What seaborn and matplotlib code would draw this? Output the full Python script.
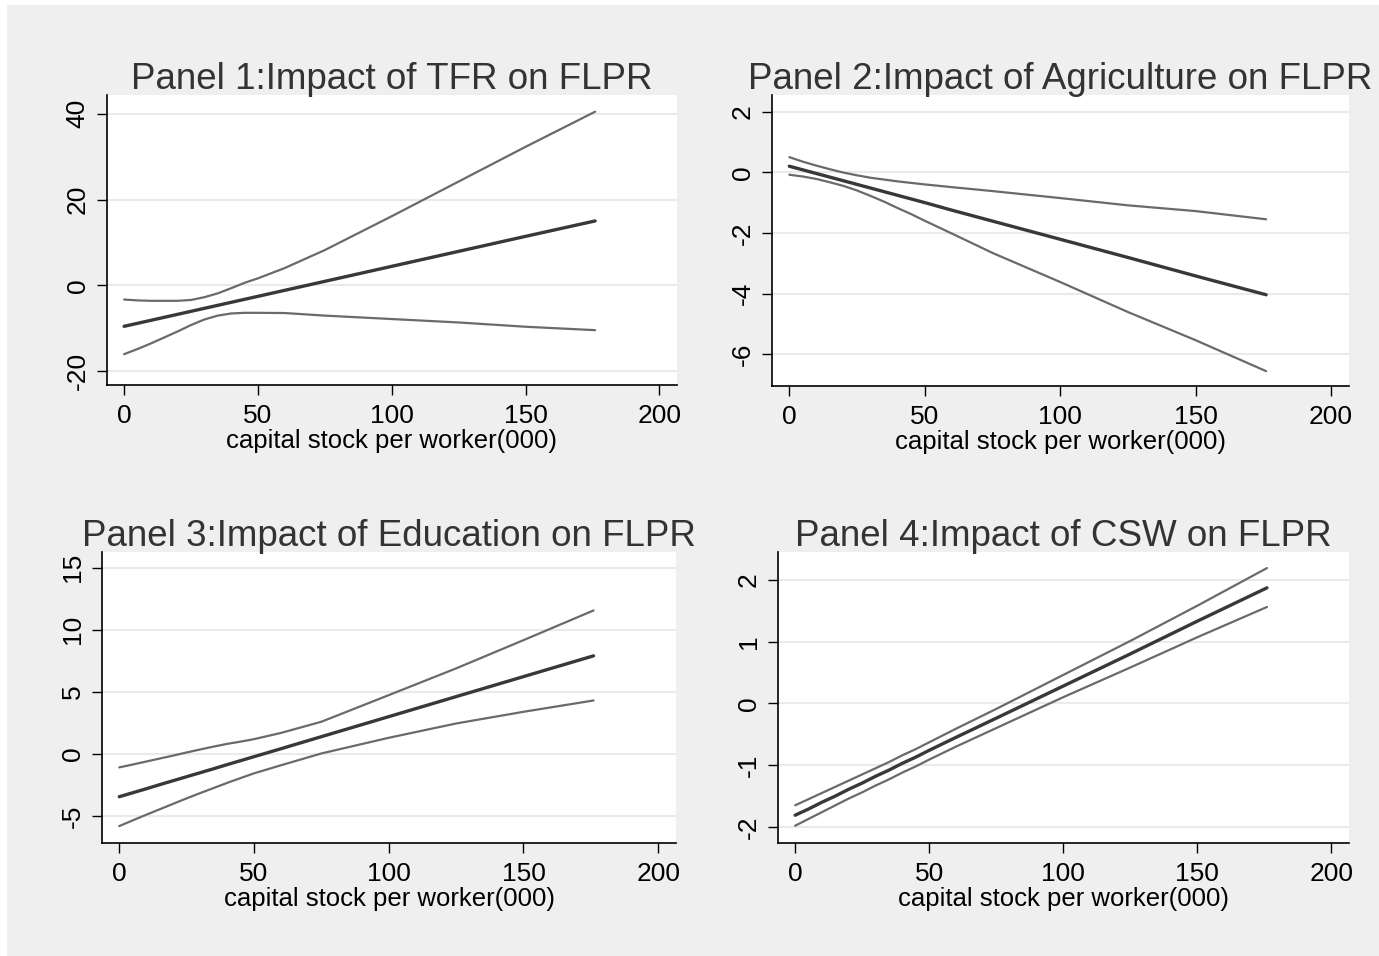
import matplotlib
matplotlib.use("Agg")
import matplotlib.pyplot as plt
import seaborn as sns
import pandas as pd
from matplotlib.patches import Rectangle

# ---------------- data ----------------
x_vals = [0, 5, 10, 15, 20, 25, 30, 35, 40, 45, 50, 60, 75, 100, 125, 150, 176]

p1_center = [-9.6, -8.9, -8.2, -7.5, -6.8, -6.1, -5.4, -4.7, -4.0, -3.3, -2.6, -1.2, 0.9, 4.4, 7.9, 11.4, 15.0]
p1_upper = [-3.35, -3.55, -3.65, -3.65, -3.65, -3.45, -2.8, -1.9, -0.7, 0.55, 1.6, 4.0, 8.2, 16.1, 24.2, 32.3, 40.5]
p1_lower = [-16.1, -14.9, -13.6, -12.2, -10.8, -9.3, -8.0, -7.1, -6.6, -6.45, -6.45, -6.5, -7.1, -7.9, -8.7, -9.7, -10.5]

p2_center = [0.2, 0.08, -0.04, -0.16, -0.28, -0.4, -0.52, -0.64, -0.76, -0.88, -1.0, -1.25, -1.61, -2.21, -2.81, -3.42, -4.04]
p2_upper = [0.5, 0.35, 0.22, 0.1, -0.01, -0.1, -0.18, -0.24, -0.3, -0.35, -0.4, -0.49, -0.62, -0.85, -1.09, -1.28, -1.55]
p2_lower = [-0.08, -0.14, -0.22, -0.33, -0.45, -0.6, -0.78, -0.97, -1.18, -1.38, -1.6, -2.02, -2.66, -3.62, -4.61, -5.54, -6.56]

p3_center = [-3.43, -3.11, -2.79, -2.46, -2.14, -1.82, -1.5, -1.18, -0.85, -0.53, -0.21, 0.43, 1.4, 3.01, 4.62, 6.23, 7.9]
p3_upper = [-1.07, -0.84, -0.6, -0.36, -0.12, 0.13, 0.37, 0.6, 0.82, 1.0, 1.2, 1.7, 2.6, 4.74, 6.89, 9.16, 11.55]
p3_lower = [-5.79, -5.33, -4.88, -4.44, -4.0, -3.56, -3.14, -2.73, -2.32, -1.93, -1.55, -0.9, 0.05, 1.31, 2.46, 3.4, 4.31]

p4_center = [-1.81, -1.71, -1.60, -1.50, -1.39, -1.29, -1.18, -1.08, -0.97, -0.87, -0.76, -0.55, -0.24, 0.28, 0.80, 1.33, 1.87]
p4_upper = [-1.65, -1.55, -1.45, -1.35, -1.25, -1.15, -1.05, -0.95, -0.84, -0.74, -0.63, -0.41, -0.09, 0.46, 1.01, 1.58, 2.19]
p4_lower = [-1.98, -1.87, -1.76, -1.65, -1.54, -1.44, -1.33, -1.23, -1.12, -1.02, -0.91, -0.70, -0.40, 0.10, 0.58, 1.07, 1.56]

titles = ["Panel 1:Impact of TFR on FLPR",
          "Panel 2:Impact of Agriculture on FLPR",
          "Panel 3:Impact of Education on FLPR",
          "Panel 4:Impact of CSW on FLPR"]
x_label = "capital stock per worker(000)"
x_ticks = [0, 50, 100, 150, 200]
y_ticks = [[-20, 0, 20, 40], [-6, -4, -2, 0, 2], [-5, 0, 5, 10, 15], [-2, -1, 0, 1, 2]]
y_limits = [(-23.3, 44.4), (-7.05, 2.55), (-7.15, 16.25), (-2.26, 2.45)]
x_limits = (-6.4, 206.6)

panels = [(p1_center, p1_upper, p1_lower),
          (p2_center, p2_upper, p2_lower),
          (p3_center, p3_upper, p3_lower),
          (p4_center, p4_upper, p4_lower)]

# ---------------- style ----------------
sns.set_theme(style="white")
plt.rcParams['font.family'] = ['Liberation Sans', 'DejaVu Sans']

W, H = 1379, 956
fig = plt.figure(figsize=(W / 100, H / 100), dpi=100)
fig.patch.set_facecolor("white")
fig.patches.append(Rectangle((7 / W, 0), 1 - 7 / W, 1 - 5 / H, transform=fig.transFigure,
                             facecolor="#efefef", edgecolor="none", zorder=-10))

# axes boxes in pixels: left, right, top, bottom
boxes = [(107, 677, 95, 385), (772, 1349, 95, 386),
         (102, 676, 552, 843), (778, 1349, 552, 843)]

CENTER_C = "#383838"
CI_C = "#6a6a6a"

for i, (l, r, t, b) in enumerate(boxes):
    ax = fig.add_axes([l / W, 1 - b / H, (r - l) / W, (b - t) / H])
    ax.set_facecolor("white")
    c, u, lo = panels[i]
    df = pd.DataFrame({"x": x_vals, "center": c, "upper": u, "lower": lo})
    sns.lineplot(data=df, x="x", y="upper", ax=ax, color=CI_C, linewidth=1.6)
    sns.lineplot(data=df, x="x", y="lower", ax=ax, color=CI_C, linewidth=1.6)
    sns.lineplot(data=df, x="x", y="center", ax=ax, color=CENTER_C, linewidth=2.4)

    ax.set_xlim(*x_limits)
    ax.set_ylim(*y_limits[i])
    ax.set_xticks(x_ticks)
    ax.set_yticks(y_ticks[i])
    ax.set_yticklabels([str(v) for v in y_ticks[i]], rotation=90, va="center")
    ax.grid(axis="y", color="#eaeaea", linewidth=1.5)
    ax.set_axisbelow(True)
    for s in ["top", "right"]:
        ax.spines[s].set_visible(False)
    for s in ["left", "bottom"]:
        ax.spines[s].set_color("black")
        ax.spines[s].set_linewidth(1.2)
    ax.tick_params(axis="both", which="major", direction="out", length=7.5, width=1.0,
                   color="black", labelsize=19, labelcolor="black", left=True, bottom=True)
    ax.tick_params(axis="x", pad=6)
    ax.tick_params(axis="y", pad=5)
    ax.set_xlabel(x_label, fontsize=18.5, color="black", labelpad=1)
    ax.set_ylabel("")
    ax.set_title(titles[i], fontsize=26.5, color="#333333", pad=4)

fig.savefig("out.png", dpi=100, facecolor=fig.get_facecolor())
